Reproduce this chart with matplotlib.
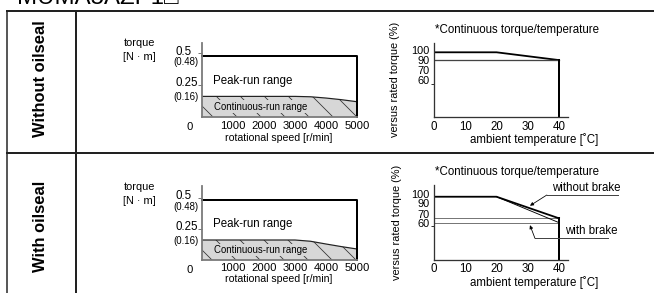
"""Torque characteristics sheet: torque/speed and derating/temperature, two rows."""

import matplotlib

matplotlib.use("Agg")
import matplotlib.pyplot as plt
from matplotlib import font_manager
from matplotlib.lines import Line2D

W, H = 654, 293  # figure size in pixels (dpi 72 -> 1 pt == 1 px)

MODEL = "MUMA5AZP1□"
ROW_LABELS = ["Without oilseal", "With oilseal"]

# torque / speed
speed = [0, 3000, 3500, 4000, 4500, 5000]
cont_torque_1 = [0.16, 0.16, 0.157, 0.147, 0.134, 0.118]
cont_torque_2 = [0.16, 0.16, 0.15, 0.128, 0.107, 0.088]
peak_torque = 0.48
max_speed = 5000
speed_ticks = [1000, 2000, 3000, 4000, 5000]
torque_ticks = [0.5, 0.25]
torque_marks = [0.48, 0.16]

# continuous torque / ambient temperature
temp = [0, 20, 40]
derate_1 = [100, 100, 90]
derate_2_nobrake = [100, 100, 70]
derate_2_brake = [100, 100, 64]
temp_ticks = [0, 10, 20, 30, 40]
pct_ticks = [100, 90, 70, 60]

FILL = "#d7d7d7"
DARK = "#222222"

plt.rcParams["font.family"] = ["Liberation Sans", "DejaVu Sans"]
plt.rcParams["hatch.linewidth"] = 0.8


def narrow_font():
    """Use the condensed face if it is installed, else plain Liberation Sans."""
    try:
        font_manager.findfont(
            font_manager.FontProperties(family="Liberation Sans Narrow"),
            fallback_to_default=False,
        )
        return ["Liberation Sans Narrow"], 10.8
    except ValueError:
        return ["Liberation Sans"], 9.6


NARROW, NARROW_SIZE = narrow_font()


def px_axes(fig, left, top, right, bottom):
    return fig.add_axes(
        [left / W, 1 - bottom / H, (right - left) / W, (bottom - top) / H]
    )


def ftext(fig, x, y, s, **kw):
    fig.text(x / W, 1 - y / H, s, **kw)


def torque_speed(ax, cont, ymax, xpad, mark_dy):
    ax.fill_between(speed, cont, 0, facecolor=FILL, edgecolor="#333333",
                    hatch="\\", linewidth=0)
    ax.plot(speed, cont, color=DARK, lw=1.2)
    ax.plot([0, max_speed, max_speed], [peak_torque, peak_torque, 0],
            color="k", lw=2, clip_on=False)
    ax.set_xlim(0, max_speed)
    ax.set_ylim(0, ymax)
    ax.patch.set_visible(False)
    for side in ("top", "right"):
        ax.spines[side].set_visible(False)
    for side in ("left", "bottom"):
        ax.spines[side].set_color("#7a7a7a")
        ax.spines[side].set_linewidth(1.8)

    ax.set_xticks(speed_ticks)
    ax.tick_params(axis="x", length=0, pad=xpad, labelsize=11.2)
    ax.set_yticks(torque_ticks, labels=[])
    ax.tick_params(axis="y", length=4, width=1, color="#7a7a7a")
    for t in torque_ticks:
        ax.annotate(f"{t:g}", xy=(0, t), xycoords=ax.get_yaxis_transform(),
                    xytext=(-27, 1.5), textcoords="offset points",
                    ha="left", va="center", fontsize=11.5)
    # bracketed values sit just under their line, no tick
    for t, dy in zip(torque_marks, mark_dy):
        ax.annotate(f"({t:.2f})", xy=(0, t), xycoords=ax.get_yaxis_transform(),
                    xytext=(-28.5, dy), textcoords="offset points",
                    ha="left", va="center", family=NARROW,
                    fontsize=NARROW_SIZE)

    ax.annotate("0", xy=(0, 0), xytext=(-12.5, -10), textcoords="offset points",
                ha="center", va="center", fontsize=11.2)
    ax.text(350, 0.285, "Peak-run range", fontsize=11.5, va="center")
    ax.text(390, 0.08, "Continuous-run range", family=NARROW,
            fontsize=NARROW_SIZE, va="center",
            bbox=dict(facecolor=FILL, edgecolor="none", pad=1.2))


def derating(ax, ylim, shifts):
    ax.set_xlim(0, 43)
    ax.set_ylim(*ylim)
    for side in ("top", "right"):
        ax.spines[side].set_visible(False)
    for side in ("left", "bottom"):
        ax.spines[side].set_color("#333333")
        ax.spines[side].set_linewidth(1.3)
    ax.set_xticks(temp_ticks)
    ax.tick_params(axis="x", length=0, pad=3.3, labelsize=11.5)
    # only the lowest value carries a tick mark
    ax.set_yticks([pct_ticks[-1]])
    ax.tick_params(axis="y", length=3, width=1, color="#333333",
                   labelleft=False)
    # labels are packed closer than the scale, as on the sheet
    for v, dy in zip(pct_ticks, shifts):
        ax.annotate(str(v), xy=(0, v), xycoords=ax.get_yaxis_transform(),
                    xytext=(-4.5, dy), textcoords="offset points",
                    ha="right", va="center", fontsize=11)


fig = plt.figure(figsize=(W / 72, H / 72), dpi=72)

# table frame
frame = [
    ([7, W], [11, 11], 2.0),
    ([7, W], [153, 153], 2.0),
    ([7, 7], [11, H], 1.5),
    ([76, 76], [11, H], 2.0),
]
for xs, ys, lw in frame:
    fig.add_artist(Line2D([x / W for x in xs], [1 - y / H for y in ys],
                          color=DARK, lw=lw))

ftext(fig, 17, 4.5, MODEL, fontsize=24, va="baseline")
ftext(fig, 41, 78.5, ROW_LABELS[0], fontsize=16.5, fontweight="bold",
      rotation=90, ha="center", va="center")
ftext(fig, 41, 226.5, ROW_LABELS[1], fontsize=16.5, fontweight="bold",
      rotation=90, ha="center", va="center")

# ---- row 1 ----
ax1 = px_axes(fig, 202, 42.7, 357, 116.7)
torque_speed(ax1, cont_torque_1, 0.583, 4, [-6.5, -0.5])
ftext(fig, 139, 43.5, "torque", fontsize=11, ha="center", va="center")
ftext(fig, 139, 57.5, "[N · m]", fontsize=11, ha="center", va="center")
ftext(fig, 279, 138, "rotational speed [r/min]", fontsize=10.5,
      ha="center", va="center")

ax2 = px_axes(fig, 434, 42.7, 568.4, 117.3)
derating(ax2, (16.7, 112.3), [1.5, -0.5, 5, 2.5])
ax2.plot(temp, derate_1, color="k", lw=1.8, solid_joinstyle="miter")
ax2.plot([0, temp[-1]], [derate_1[-1]] * 2, color="#444444", lw=1.3)
ax2.plot([temp[-1]] * 2, [derate_1[-1], ax2.get_ylim()[0]], color="k", lw=2)
ftext(fig, 435, 30, "*Continuous torque/temperature", fontsize=11.5, va="center")
ftext(fig, 395, 79, "versus rated torque (%)", fontsize=11, rotation=90,
      ha="center", va="center")
ftext(fig, 534, 139.5, "ambient temperature [˚C]", fontsize=11.5,
      ha="center", va="center")

# ---- row 2 ----
ax3 = px_axes(fig, 202, 186, 357, 260)
torque_speed(ax3, cont_torque_2, 0.592, 2.8, [-6.5, -0.5])
ftext(fig, 139, 187.5, "torque", fontsize=11, ha="center", va="center")
ftext(fig, 139, 201.5, "[N · m]", fontsize=11, ha="center", va="center")
ftext(fig, 279, 278.5, "rotational speed [r/min]", fontsize=10.5,
      ha="center", va="center")

ax4 = px_axes(fig, 434, 185, 568.4, 260)
derating(ax4, (12.1, 116.3), [1.5, -0.5, 3.5, 2])
ax4.plot([0, temp[-1]], [derate_2_nobrake[-1]] * 2, color="#777777", lw=1)
ax4.plot([0, temp[-1]], [derate_2_brake[-1]] * 2, color="#777777", lw=1)
ax4.plot(temp[1:], derate_2_brake[1:], color="k", lw=0.9)
ax4.plot(temp, derate_2_nobrake, color="k", lw=1.8)
ax4.plot([temp[-1]] * 2, [derate_2_nobrake[-1], ax4.get_ylim()[0]],
         color="k", lw=2)
ftext(fig, 435, 171.7, "*Continuous torque/temperature", fontsize=11.5,
      va="center")
ftext(fig, 397, 222, "versus rated torque (%)", fontsize=11, rotation=90,
      ha="center", va="center")
ftext(fig, 534, 283, "ambient temperature [˚C]", fontsize=11.5,
      ha="center", va="center")

# leader notes: (text x, text y, underline x0, x1, y, arrow tip)
notes = [
    ("without brake", 37.7, 111.7, 36.1, 59.0, 102.4, (30.7, 87.5)),
    ("with brake", 41.9, 52.4, 32.3, 55.8, 42.2, (30.7, 60.5)),
]
for label, tx, ty, ux0, ux1, uy, tip in notes:
    ax4.text(tx, ty, label, fontsize=11.5, va="center", clip_on=False)
    ax4.plot([ux0, ux1], [uy, uy], color="#444444", lw=1, clip_on=False)
    ax4.annotate("", xy=tip, xytext=(ux0, uy),
                 arrowprops=dict(arrowstyle="-|>", color="k", lw=0.8,
                                 mutation_scale=7, shrinkA=0, shrinkB=0))

fig.savefig("out.png", dpi=72)
